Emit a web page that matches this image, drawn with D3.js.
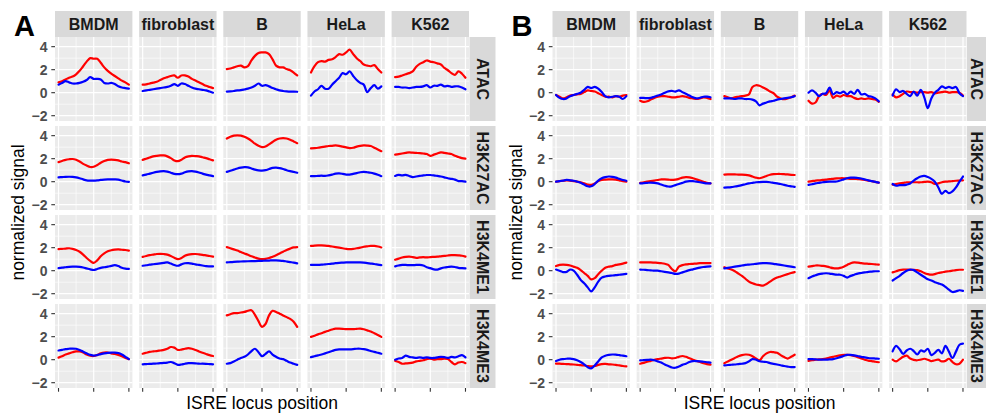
<!DOCTYPE html>
<html>
<head>
<meta charset="utf-8">
<script src="https://cdn.jsdelivr.net/npm/d3@7"></script>
<style>
  body { margin: 0; background: #fff; }
  svg { display: block; }
</style>
</head>
<body>
<svg id="chart" width="986" height="414"></svg>
<script>
// ---- categories and axes ----
const cellTypes = ["BMDM", "fibroblast", "B", "HeLa", "K562"];
const marks = ["ATAC", "H3K27AC", "H3K4ME1", "H3K4ME3"];
const positions = [0, 5, 10, 15, 20, 25, 30, 35, 40, 45, 50, 55, 60, 65, 70, 75, 80, 85, 90, 95, 100];
const yTicks = [-2, 0, 2, 4];
const yMinor = [-1, 1, 3];
const xTicks = [0, 50, 100];
const xMinor = [25, 75];

// ---- panel A: one series per cell type (BMDM, fibroblast, B, HeLa, K562) ----
const aRedATAC = [
  [0.9,1.0,1.15,1.3,1.4,1.6,1.9,2.3,2.7,3.0,2.95,2.95,2.6,2.2,1.9,1.65,1.45,1.25,1.05,0.9,0.7],
  [0.7,0.72,0.8,0.88,0.95,1.1,1.25,1.35,1.45,1.5,1.3,1.5,1.5,1.4,1.2,1.05,0.9,0.75,0.6,0.5,0.4],
  [2.05,2.1,2.2,2.3,2.35,2.2,2.3,2.8,3.2,3.45,3.5,3.5,3.35,2.9,2.35,2.2,2.2,2.05,1.95,1.75,1.5],
  [1.75,2.3,2.65,2.75,2.7,2.85,2.9,3.1,3.35,3.3,3.5,3.75,3.35,3.0,2.75,2.45,2.35,2.3,2.4,2.05,1.75],
  [1.35,1.4,1.5,1.6,1.7,1.85,2.25,2.5,2.65,2.8,2.7,2.65,2.55,2.45,2.15,1.95,1.7,1.55,1.85,1.65,1.3]
];
const aBlueATAC = [
  [0.7,0.85,1.0,0.9,0.8,0.8,0.85,0.95,1.1,1.35,1.2,1.2,1.15,0.85,0.8,0.85,0.75,0.55,0.45,0.4,0.35],
  [0.15,0.2,0.25,0.3,0.35,0.4,0.45,0.5,0.6,0.75,0.6,0.8,0.75,0.6,0.45,0.35,0.3,0.25,0.2,0.1,0.0],
  [0.1,0.12,0.15,0.2,0.22,0.28,0.35,0.45,0.6,0.8,0.6,0.65,0.55,0.4,0.3,0.2,0.15,0.12,0.1,0.1,0.08],
  [-0.25,0.1,0.3,0.6,0.35,0.35,0.7,1.0,1.3,1.7,1.6,1.85,1.45,1.1,0.85,0.7,0.05,0.4,0.65,0.35,0.55],
  [0.5,0.5,0.45,0.45,0.4,0.45,0.5,0.5,0.55,0.65,0.45,0.6,0.6,0.7,0.55,0.6,0.5,0.55,0.55,0.45,0.3]
];
const aRedK27AC = [
  [1.7,1.8,1.9,1.95,1.97,1.9,1.75,1.55,1.4,1.28,1.3,1.45,1.65,1.8,1.9,1.92,1.9,1.85,1.75,1.7,1.6],
  [1.9,2.0,2.1,2.2,2.25,2.28,2.28,2.2,2.05,1.85,1.78,1.9,2.1,2.2,2.25,2.22,2.2,2.12,2.05,1.95,1.85],
  [3.75,3.9,4.0,4.03,4.0,3.9,3.75,3.55,3.3,3.12,3.0,3.05,3.25,3.45,3.65,3.75,3.78,3.75,3.65,3.5,3.35],
  [2.9,2.92,2.95,3.0,3.05,3.1,3.12,3.15,3.12,3.05,2.98,2.92,2.95,3.05,3.12,3.15,3.14,3.1,2.95,2.8,2.65],
  [2.35,2.4,2.45,2.5,2.55,2.52,2.5,2.48,2.45,2.4,2.25,2.35,2.45,2.55,2.5,2.45,2.4,2.25,2.15,2.05,2.0]
];
const aBlueK27AC = [
  [0.38,0.4,0.42,0.43,0.42,0.38,0.3,0.2,0.12,0.1,0.1,0.12,0.15,0.18,0.2,0.2,0.2,0.18,0.1,0.02,-0.02],
  [0.55,0.62,0.7,0.78,0.85,0.9,0.92,0.88,0.78,0.68,0.65,0.7,0.82,0.9,0.92,0.88,0.8,0.7,0.62,0.55,0.48],
  [0.85,0.95,1.05,1.15,1.22,1.26,1.25,1.15,1.05,0.98,0.97,1.0,1.1,1.2,1.22,1.18,1.1,1.0,0.92,0.85,0.78],
  [0.48,0.48,0.5,0.52,0.5,0.55,0.62,0.7,0.72,0.68,0.62,0.62,0.68,0.75,0.82,0.85,0.82,0.78,0.7,0.6,0.48],
  [0.5,0.6,0.55,0.6,0.5,0.4,0.45,0.5,0.55,0.58,0.58,0.55,0.5,0.45,0.38,0.3,0.25,0.18,0.05,0.05,0.0]
];
const aRedK4ME1 = [
  [1.88,1.9,1.92,1.95,1.9,1.8,1.65,1.4,1.1,0.85,0.68,0.9,1.25,1.5,1.68,1.78,1.83,1.85,1.82,1.8,1.75],
  [1.2,1.28,1.35,1.4,1.45,1.47,1.45,1.4,1.28,1.12,1.0,1.1,1.3,1.4,1.44,1.45,1.42,1.38,1.33,1.28,1.22],
  [2.05,1.95,1.85,1.75,1.62,1.5,1.38,1.25,1.15,1.05,1.0,1.02,1.1,1.22,1.35,1.5,1.65,1.8,1.92,2.02,2.05],
  [2.15,2.18,2.2,2.2,2.18,2.15,2.1,2.05,2.0,1.95,1.9,1.88,1.9,1.95,2.0,2.08,2.12,2.15,2.15,2.1,2.02],
  [0.95,1.05,1.15,1.2,1.22,1.18,1.12,1.15,1.18,1.15,1.18,1.2,1.22,1.25,1.28,1.32,1.35,1.35,1.33,1.3,1.22]
];
const aBlueK4ME1 = [
  [0.23,0.27,0.3,0.33,0.35,0.35,0.33,0.28,0.2,0.12,0.06,0.15,0.25,0.3,0.35,0.42,0.48,0.4,0.25,0.18,0.15],
  [0.43,0.47,0.52,0.56,0.6,0.64,0.68,0.72,0.62,0.5,0.43,0.55,0.65,0.66,0.62,0.55,0.5,0.45,0.4,0.38,0.37],
  [0.72,0.74,0.76,0.78,0.8,0.81,0.82,0.83,0.84,0.85,0.86,0.87,0.88,0.9,0.9,0.88,0.85,0.8,0.75,0.7,0.64],
  [0.5,0.5,0.5,0.52,0.55,0.58,0.62,0.65,0.68,0.7,0.72,0.72,0.72,0.73,0.72,0.7,0.66,0.62,0.58,0.53,0.48],
  [0.38,0.45,0.5,0.5,0.48,0.48,0.5,0.5,0.45,0.3,0.22,0.12,0.1,0.2,0.28,0.32,0.35,0.32,0.25,0.22,0.2]
];
const aRedK4ME3 = [
  [0.18,0.3,0.45,0.55,0.65,0.72,0.72,0.62,0.45,0.35,0.32,0.4,0.55,0.62,0.62,0.55,0.5,0.42,0.3,0.15,0.05],
  [0.52,0.6,0.68,0.72,0.75,0.8,0.85,0.95,1.1,1.05,0.85,0.88,0.95,1.0,0.95,0.85,0.72,0.6,0.5,0.4,0.32],
  [3.85,3.95,4.05,4.05,4.1,4.15,4.25,4.3,3.9,3.35,2.85,3.1,3.85,4.25,4.15,4.0,3.85,3.7,3.55,3.3,2.85],
  [1.98,2.08,2.2,2.3,2.42,2.52,2.62,2.7,2.7,2.68,2.65,2.65,2.65,2.68,2.7,2.65,2.55,2.45,2.3,2.15,1.98],
  [-0.1,-0.2,-0.35,-0.32,-0.3,-0.25,-0.15,-0.1,-0.05,0.05,0.1,0.0,0.05,0.05,0.1,0.05,-0.2,-0.4,-0.25,-0.2,-0.3]
];
const aBlueK4ME3 = [
  [0.8,0.85,0.92,0.95,0.97,0.95,0.85,0.7,0.55,0.42,0.35,0.4,0.48,0.55,0.6,0.62,0.62,0.58,0.45,0.25,0.05],
  [-0.4,-0.38,-0.36,-0.35,-0.33,-0.3,-0.28,-0.25,-0.2,-0.3,-0.45,-0.42,-0.35,-0.3,-0.3,-0.32,-0.35,-0.35,-0.36,-0.38,-0.4],
  [-0.35,-0.3,-0.15,0.0,0.15,0.25,0.45,0.75,0.95,0.65,0.3,0.5,0.72,0.45,0.25,0.1,0.05,-0.1,-0.25,-0.35,-0.45],
  [0.22,0.3,0.38,0.45,0.55,0.65,0.75,0.85,0.9,0.9,0.9,0.9,0.92,0.95,0.95,0.92,0.85,0.75,0.68,0.6,0.52],
  [0.0,0.1,0.15,0.35,0.25,0.2,0.15,0.2,0.15,0.2,0.15,0.15,0.2,0.25,0.22,0.15,0.25,0.2,0.3,0.4,0.2]
];

// ---- panel B ----
const bRedATAC = [
  [-0.2,-0.35,-0.5,-0.4,-0.25,-0.2,-0.15,-0.1,0.05,0.2,0.15,0.1,-0.05,-0.2,-0.35,-0.35,-0.4,-0.3,-0.35,-0.25,-0.2],
  [-0.7,-0.8,-0.75,-0.6,-0.45,-0.35,-0.3,-0.3,-0.35,-0.4,-0.4,-0.35,-0.3,-0.35,-0.45,-0.5,-0.55,-0.5,-0.4,-0.45,-0.55],
  [-0.3,-0.4,-0.5,-0.4,-0.35,-0.3,-0.25,-0.15,0.5,0.65,0.6,0.45,0.3,0.1,-0.05,-0.35,-0.5,-0.57,-0.5,-0.4,-0.25],
  [-0.7,-0.95,-0.85,-0.3,-0.1,-0.2,0.2,-0.45,-0.25,-0.35,-0.2,-0.3,-0.3,-0.45,-0.55,-0.5,-0.55,-0.5,-0.55,-0.6,-0.8],
  [-0.15,-0.4,-0.3,-0.1,0.1,0.05,0.05,0.0,0.05,0.05,0.0,0.05,-0.05,0.0,0.05,0.1,0.0,0.05,0.05,0.0,-0.25]
];
const bBlueATAC = [
  [-0.2,-0.45,-0.55,-0.5,-0.3,-0.2,-0.1,0.0,0.25,0.5,0.4,0.5,0.35,0.05,-0.3,-0.4,-0.35,-0.3,-0.35,-0.55,-0.3],
  [-0.45,-0.45,-0.48,-0.45,-0.35,-0.25,-0.15,0.0,0.12,0.15,0.1,0.2,0.05,-0.1,-0.25,-0.4,-0.5,-0.45,-0.35,-0.35,-0.4],
  [-0.5,-0.5,-0.5,-0.55,-0.5,-0.5,-0.55,-0.55,-0.6,-0.75,-1.1,-0.95,-0.85,-0.75,-0.7,-0.6,-0.55,-0.5,-0.45,-0.4,-0.3],
  [0.0,0.2,0.0,-0.3,-0.1,-0.05,0.45,-0.15,0.05,-0.05,0.1,-0.15,0.1,-0.1,0.25,-0.15,-0.1,-0.3,-0.35,-0.5,-0.75],
  [-0.25,0.3,0.05,0.15,-0.1,-0.3,0.1,-0.25,0.25,-0.4,-1.35,-0.5,0.0,0.25,0.55,0.4,0.5,0.4,0.5,-0.05,-0.3]
];
const bRedK27AC = [
  [0.0,0.05,0.08,0.12,0.1,0.05,0.0,-0.05,-0.15,-0.25,-0.28,-0.15,0.05,0.15,0.18,0.2,0.2,0.18,0.12,0.05,0.0],
  [-0.1,-0.05,0.0,0.05,0.1,0.15,0.2,0.2,0.18,0.15,0.18,0.25,0.35,0.4,0.38,0.3,0.2,0.1,0.0,-0.1,-0.15],
  [0.62,0.63,0.63,0.63,0.62,0.62,0.6,0.55,0.45,0.35,0.3,0.38,0.5,0.6,0.65,0.67,0.67,0.65,0.63,0.6,0.58],
  [0.0,0.05,0.1,0.12,0.15,0.18,0.22,0.25,0.28,0.3,0.3,0.28,0.25,0.25,0.22,0.2,0.15,0.1,0.05,-0.02,-0.08],
  [-0.25,-0.2,-0.15,-0.1,-0.05,-0.05,-0.05,-0.05,-0.05,-0.02,0.0,-0.05,-0.2,-0.15,-0.05,0.0,0.02,0.05,0.08,0.1,0.12]
];
const bBlueK27AC = [
  [0.0,0.05,0.1,0.15,0.12,0.08,0.0,-0.1,-0.25,-0.4,-0.4,-0.2,0.1,0.3,0.4,0.45,0.42,0.35,0.25,0.15,0.08],
  [-0.15,-0.12,-0.1,-0.08,-0.1,-0.15,-0.25,-0.35,-0.42,-0.4,-0.3,-0.2,-0.1,0.0,0.05,0.05,0.0,-0.05,-0.1,-0.15,-0.15],
  [-0.52,-0.5,-0.47,-0.42,-0.37,-0.3,-0.22,-0.15,-0.1,-0.05,-0.03,-0.02,-0.02,-0.05,-0.1,-0.15,-0.2,-0.28,-0.35,-0.4,-0.45],
  [-0.28,-0.22,-0.15,-0.1,-0.05,-0.02,0.0,0.0,0.02,0.1,0.2,0.3,0.35,0.35,0.32,0.28,0.2,0.12,0.05,-0.02,-0.08],
  [-0.2,-0.35,-0.3,-0.3,-0.25,-0.15,0.1,0.3,0.45,0.5,0.4,0.25,0.0,-0.5,-1.05,-0.8,-1.0,-0.85,-0.5,0.0,0.45]
];
const bRedK4ME1 = [
  [0.4,0.5,0.52,0.5,0.45,0.35,0.25,0.05,-0.2,-0.45,-0.75,-0.65,-0.3,0.0,0.25,0.35,0.4,0.5,0.55,0.62,0.7],
  [0.72,0.73,0.73,0.72,0.7,0.68,0.65,0.6,0.5,0.15,-0.05,0.35,0.48,0.55,0.58,0.6,0.62,0.65,0.65,0.66,0.66],
  [0.3,0.2,0.1,-0.05,-0.25,-0.45,-0.7,-0.95,-1.1,-1.2,-1.25,-1.3,-1.15,-0.95,-0.75,-0.6,-0.5,-0.4,-0.3,-0.2,-0.12],
  [0.35,0.4,0.45,0.45,0.42,0.38,0.3,0.22,0.2,0.25,0.35,0.5,0.65,0.72,0.7,0.65,0.62,0.6,0.58,0.55,0.52],
  [-0.15,-0.05,0.05,0.1,0.1,0.08,0.08,0.05,-0.05,-0.2,-0.3,-0.35,-0.3,-0.2,-0.15,-0.08,-0.05,0.0,0.05,0.08,0.08]
];
const bBlueK4ME1 = [
  [0.1,0.0,-0.12,-0.1,0.1,0.0,-0.35,-0.8,-1.1,-1.45,-1.8,-1.45,-0.95,-0.6,-0.5,-0.45,-0.42,-0.38,-0.35,-0.32,-0.28],
  [0.1,0.08,0.05,0.03,0.0,0.0,-0.05,-0.1,-0.15,-0.2,-0.28,-0.25,-0.15,-0.05,0.05,0.12,0.2,0.27,0.32,0.35,0.37],
  [0.2,0.25,0.3,0.35,0.4,0.45,0.5,0.53,0.56,0.6,0.63,0.65,0.65,0.63,0.6,0.55,0.5,0.45,0.4,0.35,0.3],
  [-0.65,-0.5,-0.4,-0.3,-0.25,-0.22,-0.25,-0.3,-0.35,-0.35,-0.45,-0.6,-0.45,-0.35,-0.25,-0.2,-0.15,-0.1,-0.08,-0.05,-0.05],
  [-0.85,-0.65,-0.45,-0.2,0.0,0.1,0.05,-0.15,-0.35,-0.55,-0.75,-0.85,-1.0,-1.1,-1.2,-1.4,-1.65,-1.85,-1.8,-1.7,-1.75]
];
const bRedK4ME3 = [
  [-0.35,-0.35,-0.37,-0.38,-0.4,-0.42,-0.45,-0.48,-0.5,-0.55,-0.58,-0.55,-0.45,-0.38,-0.37,-0.4,-0.42,-0.45,-0.5,-0.55,-0.58],
  [-0.35,-0.28,-0.18,-0.1,-0.02,0.05,0.1,0.15,0.17,0.12,0.15,0.25,0.32,0.25,0.12,0.0,-0.1,-0.2,-0.3,-0.38,-0.43],
  [-0.3,-0.15,0.0,0.15,0.3,0.4,0.45,0.43,0.3,0.1,-0.05,0.3,0.55,0.67,0.65,0.6,0.4,0.23,0.1,0.25,0.43],
  [-0.1,-0.05,0.0,0.02,0.05,0.1,0.18,0.25,0.32,0.38,0.42,0.43,0.4,0.32,0.22,0.1,0.0,-0.08,-0.12,-0.18,-0.22],
  [0.0,-0.15,0.05,0.25,0.35,0.1,-0.02,-0.05,0.0,0.08,0.0,-0.12,-0.05,0.0,-0.15,-0.1,0.08,-0.2,-0.4,-0.35,0.0]
];
const bBlueK4ME3 = [
  [-0.12,0.0,0.05,0.08,0.1,0.05,-0.05,-0.2,-0.4,-0.65,-0.75,-0.5,-0.15,0.2,0.35,0.42,0.45,0.44,0.4,0.35,0.3],
  [-0.06,-0.04,-0.02,0.0,-0.05,-0.15,-0.25,-0.42,-0.55,-0.68,-0.7,-0.6,-0.45,-0.35,-0.2,-0.12,-0.12,-0.14,-0.18,-0.22,-0.26],
  [-0.5,-0.46,-0.44,-0.42,-0.38,-0.35,-0.3,-0.15,0.05,0.0,-0.14,-0.18,-0.2,-0.3,-0.36,-0.42,-0.48,-0.55,-0.6,-0.64,-0.64],
  [0.05,0.05,0.03,0.0,0.0,0.0,0.02,0.05,0.12,0.22,0.32,0.42,0.42,0.38,0.32,0.25,0.2,0.15,0.12,0.1,0.08],
  [0.72,1.2,0.9,0.5,0.8,0.95,0.75,0.45,0.8,0.7,0.95,0.4,0.6,0.85,0.55,1.2,0.7,0.15,0.7,1.3,1.4]
];

// ---- figure assembly ----
const figures = [
  { label: "A", left: 55,
    red:  [aRedATAC, aRedK27AC, aRedK4ME1, aRedK4ME3],
    blue: [aBlueATAC, aBlueK27AC, aBlueK4ME1, aBlueK4ME3] },
  { label: "B", left: 552.5,
    red:  [bRedATAC, bRedK27AC, bRedK4ME1, bRedK4ME3],
    blue: [bBlueATAC, bBlueK27AC, bBlueK4ME1, bBlueK4ME3] }
];

const WIDTH = 986;
const FONT = "'Liberation Sans', Arial, Helvetica, sans-serif";
const colW = 77.4, colGap = 6.75;
const rowH = 84, rowGap = 5;
const plotTop = 37, stripH = 26, stripW = 26;
const gridW = cellTypes.length * colW + (cellTypes.length - 1) * colGap;
const gridH = marks.length * rowH + (marks.length - 1) * rowGap;

const x = d3.scaleLinear().domain([-5, 105]).range([0, colW]);
const y = d3.scaleLinear().domain([-2.46, 4.84]).range([rowH, 0]);

const line = d3.line()
  .x((d, i) => x(positions[i]))
  .y(d => y(d))
  .curve(d3.curveCatmullRom.alpha(0.5));

const svg = d3.select("#chart").style("font-family", FONT);

figures.forEach(fig => {
  const g = svg.append("g").attr("transform", `translate(${fig.left},${plotTop})`);

  // figure letter
  svg.append("text")
    .attr("x", fig.left - 41).attr("y", 36)
    .attr("font-size", 29).attr("font-weight", "bold").attr("fill", "#000")
    .text(fig.label);

  // column strips
  cellTypes.forEach((ct, c) => {
    const cx = c * (colW + colGap);
    g.append("rect").attr("x", cx).attr("y", -stripH)
      .attr("width", colW).attr("height", stripH).attr("fill", "#d9d9d9");
    g.append("text").attr("x", cx + colW / 2).attr("y", -7)
      .attr("text-anchor", "middle").attr("font-size", 16).attr("font-weight", "bold")
      .attr("fill", "#1a1a1a").text(ct);
  });

  // keep the rotated row labels inside the page width
  const stripCenter = Math.min(gridW + 0.5 + stripW / 2, WIDTH - fig.left - 9);

  marks.forEach((mk, r) => {
    const ry = r * (rowH + rowGap);

    // row strip on the right
    g.append("rect").attr("x", gridW + 0.5).attr("y", ry)
      .attr("width", stripW).attr("height", rowH).attr("fill", "#d9d9d9");
    g.append("text")
      .attr("transform", `translate(${stripCenter},${ry + rowH / 2}) rotate(90)`)
      .attr("text-anchor", "middle").attr("dy", "0.36em")
      .attr("font-size", 16).attr("font-weight", "bold").attr("fill", "#1a1a1a")
      .text(mk);

    cellTypes.forEach((ct, c) => {
      const cx = c * (colW + colGap);
      const p = g.append("g").attr("transform", `translate(${cx},${ry})`);

      p.append("rect").attr("width", colW).attr("height", rowH).attr("fill", "#ebebeb");

      // minor grid
      p.selectAll(".ymin").data(yMinor).join("line")
        .attr("x1", 0).attr("x2", colW).attr("y1", d => y(d)).attr("y2", d => y(d))
        .attr("stroke", "#fff").attr("stroke-width", 0.6);
      p.selectAll(".xmin").data(xMinor).join("line")
        .attr("y1", 0).attr("y2", rowH).attr("x1", d => x(d)).attr("x2", d => x(d))
        .attr("stroke", "#fff").attr("stroke-width", 0.6);
      // major grid
      p.selectAll(".ymaj").data(yTicks).join("line")
        .attr("x1", 0).attr("x2", colW).attr("y1", d => y(d)).attr("y2", d => y(d))
        .attr("stroke", "#fff").attr("stroke-width", 1.2);
      p.selectAll(".xmaj").data(xTicks).join("line")
        .attr("y1", 0).attr("y2", rowH).attr("x1", d => x(d)).attr("x2", d => x(d))
        .attr("stroke", "#fff").attr("stroke-width", 1.2);

      const clipId = `clip-${fig.label}-${r}-${c}`;
      p.append("clipPath").attr("id", clipId)
        .append("rect").attr("width", colW).attr("height", rowH);
      const lines = p.append("g").attr("clip-path", `url(#${clipId})`);

      lines.append("path").datum(fig.red[r][c])
        .attr("d", line).attr("fill", "none").attr("stroke", "#ff0000")
        .attr("stroke-width", 2.2).attr("stroke-linejoin", "round").attr("stroke-linecap", "round");
      lines.append("path").datum(fig.blue[r][c])
        .attr("d", line).attr("fill", "none").attr("stroke", "#0000ff")
        .attr("stroke-width", 2.2).attr("stroke-linejoin", "round").attr("stroke-linecap", "round");

      // x ticks below the bottom row
      if (r === marks.length - 1) {
        p.selectAll(".xt").data(xTicks).join("line")
          .attr("x1", d => x(d)).attr("x2", d => x(d))
          .attr("y1", rowH).attr("y2", rowH + 3.7)
          .attr("stroke", "#333").attr("stroke-width", 1.1);
      }
    });

    // y axis for this row
    const ya = g.append("g").attr("transform", `translate(0,${ry})`);
    ya.selectAll("line").data(yTicks).join("line")
      .attr("x1", -3.7).attr("x2", 0).attr("y1", d => y(d)).attr("y2", d => y(d))
      .attr("stroke", "#333").attr("stroke-width", 1.1);
    ya.selectAll("text").data(yTicks).join("text")
      .attr("x", -7.5).attr("y", d => y(d)).attr("dy", "0.36em")
      .attr("text-anchor", "end").attr("font-size", 14).attr("font-weight", "bold")
      .attr("fill", "#4d4d4d")
      .text(d => d < 0 ? "\u2212" + Math.abs(d) : String(d));
  });

  // axis titles
  g.append("text")
    .attr("transform", `translate(${-31},${gridH / 2}) rotate(-90)`)
    .attr("text-anchor", "middle").attr("font-size", 17.5).attr("fill", "#000")
    .text("normalized signal");
  g.append("text")
    .attr("x", gridW / 2).attr("y", 409 - plotTop)
    .attr("text-anchor", "middle").attr("font-size", 17.5).attr("fill", "#000")
    .text("ISRE locus position");
});
</script>
</body>
</html>
